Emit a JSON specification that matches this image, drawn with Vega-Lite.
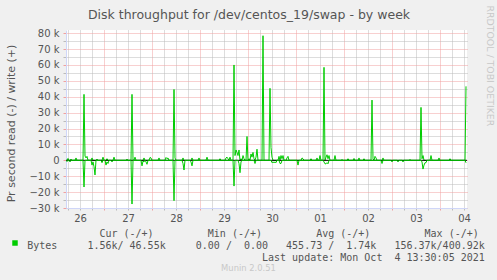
{
  "$schema": "https://vega.github.io/schema/vega-lite/v6.json",
  "width": 401,
  "height": 178,
  "autosize": {"type": "none"},
  "padding": {"left": 66, "top": 30, "right": 30, "bottom": 72},
  "background": "#f0f0f0",
  "title": {
    "text": "Munin 2.0.51",
    "orient": "bottom",
    "font": "DejaVu Sans",
    "fontSize": 8.4,
    "fontWeight": "normal",
    "color": "#c8c8c8",
    "anchor": "middle",
    "frame": "group",
    "baseline": "top",
    "offset": 2,
    "dx": -18
  },
  "config": {
    "view": {"stroke": null, "fill": "#ffffff"},
    "axis": {"labelFont": "DejaVu Sans", "titleFont": "DejaVu Sans", "titleFontWeight": "normal", "labelColor": "#555555", "titleColor": "#555555", "domainColor": "#cfd6f8", "titleLimit": 2000}
  },
  "datasets": {
    "write": [
      {"t": "2021-09-26T05:00:00Z", "v": 0}, {"t": "2021-09-26T05:30:00Z", "v": 0}, {"t": "2021-09-26T06:00:00Z", "v": 1200}, {"t": "2021-09-26T06:30:00Z", "v": 0},
      {"t": "2021-09-26T07:00:00Z", "v": 0}, {"t": "2021-09-26T07:30:00Z", "v": 800}, {"t": "2021-09-26T08:00:00Z", "v": 0}, {"t": "2021-09-26T09:30:00Z", "v": 0},
      {"t": "2021-09-26T10:00:00Z", "v": 1500}, {"t": "2021-09-26T10:30:00Z", "v": 0}, {"t": "2021-09-26T13:30:00Z", "v": 0}, {"t": "2021-09-26T14:00:00Z", "v": 41500},
      {"t": "2021-09-26T14:30:00Z", "v": 2700}, {"t": "2021-09-26T15:00:00Z", "v": 1500}, {"t": "2021-09-26T15:30:00Z", "v": 2500}, {"t": "2021-09-26T16:00:00Z", "v": 0},
      {"t": "2021-09-26T17:30:00Z", "v": 0}, {"t": "2021-09-26T18:00:00Z", "v": 1500}, {"t": "2021-09-26T18:30:00Z", "v": 0}, {"t": "2021-09-26T20:00:00Z", "v": 0},
      {"t": "2021-09-26T20:30:00Z", "v": 800}, {"t": "2021-09-26T21:00:00Z", "v": 0}, {"t": "2021-09-26T23:00:00Z", "v": 0}, {"t": "2021-09-26T23:30:00Z", "v": 2000},
      {"t": "2021-09-27T00:00:00Z", "v": 0}, {"t": "2021-09-27T01:00:00Z", "v": 0}, {"t": "2021-09-27T01:30:00Z", "v": 1000}, {"t": "2021-09-27T02:00:00Z", "v": 0},
      {"t": "2021-09-27T04:30:00Z", "v": 0}, {"t": "2021-09-27T05:00:00Z", "v": 2000}, {"t": "2021-09-27T05:30:00Z", "v": 0}, {"t": "2021-09-27T11:00:00Z", "v": 0},
      {"t": "2021-09-27T11:30:00Z", "v": 800}, {"t": "2021-09-27T12:00:00Z", "v": 0}, {"t": "2021-09-27T13:30:00Z", "v": 0}, {"t": "2021-09-27T14:00:00Z", "v": 41500},
      {"t": "2021-09-27T14:30:00Z", "v": 0}, {"t": "2021-09-27T15:00:00Z", "v": 0}, {"t": "2021-09-27T15:30:00Z", "v": 2000}, {"t": "2021-09-27T16:00:00Z", "v": 0},
      {"t": "2021-09-27T19:30:00Z", "v": 0}, {"t": "2021-09-27T20:00:00Z", "v": 1500}, {"t": "2021-09-27T20:30:00Z", "v": 0}, {"t": "2021-09-27T22:30:00Z", "v": 0},
      {"t": "2021-09-27T23:00:00Z", "v": 1800}, {"t": "2021-09-27T23:30:00Z", "v": 1500}, {"t": "2021-09-28T00:00:00Z", "v": 0}, {"t": "2021-09-28T03:00:00Z", "v": 0},
      {"t": "2021-09-28T03:30:00Z", "v": 1500}, {"t": "2021-09-28T04:00:00Z", "v": 0}, {"t": "2021-09-28T06:30:00Z", "v": 0}, {"t": "2021-09-28T07:00:00Z", "v": 1800},
      {"t": "2021-09-28T07:30:00Z", "v": 1000}, {"t": "2021-09-28T08:00:00Z", "v": 1500}, {"t": "2021-09-28T08:30:00Z", "v": 0}, {"t": "2021-09-28T10:30:00Z", "v": 0},
      {"t": "2021-09-28T11:00:00Z", "v": 44600}, {"t": "2021-09-28T11:30:00Z", "v": 1500}, {"t": "2021-09-28T12:00:00Z", "v": 0}, {"t": "2021-09-28T15:00:00Z", "v": 0},
      {"t": "2021-09-28T15:30:00Z", "v": 1500}, {"t": "2021-09-28T16:00:00Z", "v": 0}, {"t": "2021-09-28T19:30:00Z", "v": 0}, {"t": "2021-09-28T20:00:00Z", "v": 1500},
      {"t": "2021-09-28T20:30:00Z", "v": 0}, {"t": "2021-09-28T23:00:00Z", "v": 0}, {"t": "2021-09-28T23:30:00Z", "v": 1500}, {"t": "2021-09-29T00:00:00Z", "v": 0},
      {"t": "2021-09-29T03:00:00Z", "v": 0}, {"t": "2021-09-29T03:30:00Z", "v": 2000}, {"t": "2021-09-29T04:00:00Z", "v": 0}, {"t": "2021-09-29T09:30:00Z", "v": 0},
      {"t": "2021-09-29T10:00:00Z", "v": 1000}, {"t": "2021-09-29T10:30:00Z", "v": 0}, {"t": "2021-09-29T12:30:00Z", "v": 0}, {"t": "2021-09-29T13:00:00Z", "v": 1500},
      {"t": "2021-09-29T13:30:00Z", "v": 2000}, {"t": "2021-09-29T14:00:00Z", "v": 1000}, {"t": "2021-09-29T14:30:00Z", "v": 0}, {"t": "2021-09-29T15:00:00Z", "v": 2000},
      {"t": "2021-09-29T15:30:00Z", "v": 0}, {"t": "2021-09-29T16:30:00Z", "v": 0}, {"t": "2021-09-29T17:00:00Z", "v": 60000}, {"t": "2021-09-29T17:30:00Z", "v": 3000},
      {"t": "2021-09-29T18:00:00Z", "v": 6500}, {"t": "2021-09-29T18:30:00Z", "v": 5000}, {"t": "2021-09-29T19:00:00Z", "v": 3000}, {"t": "2021-09-29T19:30:00Z", "v": 6500},
      {"t": "2021-09-29T20:00:00Z", "v": 0}, {"t": "2021-09-29T20:30:00Z", "v": 1000}, {"t": "2021-09-29T21:00:00Z", "v": 0}, {"t": "2021-09-29T21:30:00Z", "v": 3000},
      {"t": "2021-09-29T22:00:00Z", "v": 1000}, {"t": "2021-09-29T22:30:00Z", "v": 0}, {"t": "2021-09-29T23:00:00Z", "v": 0}, {"t": "2021-09-29T23:30:00Z", "v": 15000},
      {"t": "2021-09-30T00:00:00Z", "v": 0}, {"t": "2021-09-30T00:30:00Z", "v": 1000}, {"t": "2021-09-30T01:00:00Z", "v": 0}, {"t": "2021-09-30T01:30:00Z", "v": 4000},
      {"t": "2021-09-30T02:00:00Z", "v": 2000}, {"t": "2021-09-30T02:30:00Z", "v": 5000}, {"t": "2021-09-30T03:00:00Z", "v": 1000}, {"t": "2021-09-30T03:30:00Z", "v": 0},
      {"t": "2021-09-30T04:00:00Z", "v": 2000}, {"t": "2021-09-30T04:30:00Z", "v": 7000}, {"t": "2021-09-30T05:00:00Z", "v": 0}, {"t": "2021-09-30T07:00:00Z", "v": 0},
      {"t": "2021-09-30T07:30:00Z", "v": 78400}, {"t": "2021-09-30T08:00:00Z", "v": 0}, {"t": "2021-09-30T10:30:00Z", "v": 0}, {"t": "2021-09-30T11:00:00Z", "v": 45300},
      {"t": "2021-09-30T11:30:00Z", "v": 8000}, {"t": "2021-09-30T12:00:00Z", "v": 2000}, {"t": "2021-09-30T12:30:00Z", "v": 0}, {"t": "2021-09-30T15:00:00Z", "v": 0},
      {"t": "2021-09-30T15:30:00Z", "v": 2500}, {"t": "2021-09-30T16:00:00Z", "v": 0}, {"t": "2021-09-30T16:30:00Z", "v": 3000}, {"t": "2021-09-30T17:00:00Z", "v": 1000},
      {"t": "2021-09-30T17:30:00Z", "v": 3000}, {"t": "2021-09-30T18:00:00Z", "v": 0}, {"t": "2021-09-30T19:00:00Z", "v": 0}, {"t": "2021-09-30T19:30:00Z", "v": 1500},
      {"t": "2021-09-30T20:00:00Z", "v": 2500}, {"t": "2021-09-30T20:30:00Z", "v": 0}, {"t": "2021-10-01T02:30:00Z", "v": 0}, {"t": "2021-10-01T03:00:00Z", "v": 1500},
      {"t": "2021-10-01T03:30:00Z", "v": 1000}, {"t": "2021-10-01T04:00:00Z", "v": 0}, {"t": "2021-10-01T07:00:00Z", "v": 0}, {"t": "2021-10-01T07:30:00Z", "v": 1000},
      {"t": "2021-10-01T08:00:00Z", "v": 0}, {"t": "2021-10-01T10:00:00Z", "v": 0}, {"t": "2021-10-01T10:30:00Z", "v": 1500}, {"t": "2021-10-01T11:00:00Z", "v": 0},
      {"t": "2021-10-01T11:30:00Z", "v": 0}, {"t": "2021-10-01T12:00:00Z", "v": 3000}, {"t": "2021-10-01T12:30:00Z", "v": 0}, {"t": "2021-10-01T13:30:00Z", "v": 0},
      {"t": "2021-10-01T14:00:00Z", "v": 58500}, {"t": "2021-10-01T14:30:00Z", "v": 0}, {"t": "2021-10-01T15:00:00Z", "v": 2000}, {"t": "2021-10-01T15:30:00Z", "v": 3500},
      {"t": "2021-10-01T16:00:00Z", "v": 1000}, {"t": "2021-10-01T16:30:00Z", "v": 3000}, {"t": "2021-10-01T17:00:00Z", "v": 0}, {"t": "2021-10-01T19:00:00Z", "v": 0},
      {"t": "2021-10-01T19:30:00Z", "v": 3000}, {"t": "2021-10-01T20:00:00Z", "v": 0}, {"t": "2021-10-01T22:30:00Z", "v": 0}, {"t": "2021-10-01T23:00:00Z", "v": 500},
      {"t": "2021-10-01T23:30:00Z", "v": 0}, {"t": "2021-10-02T01:30:00Z", "v": 0}, {"t": "2021-10-02T02:00:00Z", "v": 1000}, {"t": "2021-10-02T02:30:00Z", "v": 0},
      {"t": "2021-10-02T04:30:00Z", "v": 0}, {"t": "2021-10-02T05:00:00Z", "v": 1200}, {"t": "2021-10-02T05:30:00Z", "v": 0}, {"t": "2021-10-02T07:00:00Z", "v": 0},
      {"t": "2021-10-02T07:30:00Z", "v": 1500}, {"t": "2021-10-02T08:00:00Z", "v": 0}, {"t": "2021-10-02T09:30:00Z", "v": 0}, {"t": "2021-10-02T10:00:00Z", "v": 1000},
      {"t": "2021-10-02T10:30:00Z", "v": 0}, {"t": "2021-10-02T13:30:00Z", "v": 0}, {"t": "2021-10-02T14:00:00Z", "v": 37900}, {"t": "2021-10-02T14:30:00Z", "v": 1000},
      {"t": "2021-10-02T15:00:00Z", "v": 0}, {"t": "2021-10-02T15:30:00Z", "v": 2500}, {"t": "2021-10-02T16:00:00Z", "v": 1500}, {"t": "2021-10-02T16:30:00Z", "v": 0},
      {"t": "2021-10-02T19:00:00Z", "v": 0}, {"t": "2021-10-02T19:30:00Z", "v": 1500}, {"t": "2021-10-02T20:00:00Z", "v": 0}, {"t": "2021-10-03T08:30:00Z", "v": 0},
      {"t": "2021-10-03T09:00:00Z", "v": 500}, {"t": "2021-10-03T09:30:00Z", "v": 0}, {"t": "2021-10-03T14:00:00Z", "v": 0}, {"t": "2021-10-03T14:30:00Z", "v": 33300},
      {"t": "2021-10-03T15:00:00Z", "v": 1000}, {"t": "2021-10-03T15:30:00Z", "v": 3000}, {"t": "2021-10-03T16:00:00Z", "v": 0}, {"t": "2021-10-03T19:00:00Z", "v": 0},
      {"t": "2021-10-03T19:30:00Z", "v": 3000}, {"t": "2021-10-03T20:00:00Z", "v": 0}, {"t": "2021-10-03T23:00:00Z", "v": 0}, {"t": "2021-10-03T23:30:00Z", "v": 1500},
      {"t": "2021-10-04T00:00:00Z", "v": 0}, {"t": "2021-10-04T04:30:00Z", "v": 0}, {"t": "2021-10-04T05:00:00Z", "v": 1000}, {"t": "2021-10-04T05:30:00Z", "v": 0},
      {"t": "2021-10-04T12:30:00Z", "v": 0}, {"t": "2021-10-04T13:00:00Z", "v": 46550}
    ],
    "read": [
      {"t": "2021-09-26T05:00:00Z", "v": 0}, {"t": "2021-09-26T05:30:00Z", "v": -800}, {"t": "2021-09-26T06:00:00Z", "v": 0}, {"t": "2021-09-26T06:30:00Z", "v": 0},
      {"t": "2021-09-26T07:00:00Z", "v": -1000}, {"t": "2021-09-26T07:30:00Z", "v": 0}, {"t": "2021-09-26T13:30:00Z", "v": 0}, {"t": "2021-09-26T14:00:00Z", "v": -16800},
      {"t": "2021-09-26T14:30:00Z", "v": 0}, {"t": "2021-09-26T17:30:00Z", "v": 0}, {"t": "2021-09-26T18:00:00Z", "v": -3000}, {"t": "2021-09-26T18:30:00Z", "v": -1000},
      {"t": "2021-09-26T19:00:00Z", "v": -4000}, {"t": "2021-09-26T19:30:00Z", "v": -9200}, {"t": "2021-09-26T20:00:00Z", "v": 0}, {"t": "2021-09-26T22:30:00Z", "v": 0},
      {"t": "2021-09-26T23:00:00Z", "v": -1500}, {"t": "2021-09-26T23:30:00Z", "v": 0}, {"t": "2021-09-27T00:30:00Z", "v": 0}, {"t": "2021-09-27T01:00:00Z", "v": -3000},
      {"t": "2021-09-27T01:30:00Z", "v": -1000}, {"t": "2021-09-27T02:00:00Z", "v": -2000}, {"t": "2021-09-27T02:30:00Z", "v": 0}, {"t": "2021-09-27T03:30:00Z", "v": 0},
      {"t": "2021-09-27T04:00:00Z", "v": -1000}, {"t": "2021-09-27T04:30:00Z", "v": 0}, {"t": "2021-09-27T13:30:00Z", "v": 0}, {"t": "2021-09-27T14:00:00Z", "v": -27500},
      {"t": "2021-09-27T14:30:00Z", "v": 0}, {"t": "2021-09-27T18:30:00Z", "v": 0}, {"t": "2021-09-27T19:00:00Z", "v": -3500}, {"t": "2021-09-27T19:30:00Z", "v": -500},
      {"t": "2021-09-27T20:00:00Z", "v": -1000}, {"t": "2021-09-27T20:30:00Z", "v": 0}, {"t": "2021-09-27T21:00:00Z", "v": -1000}, {"t": "2021-09-27T21:30:00Z", "v": -2500},
      {"t": "2021-09-27T22:00:00Z", "v": 0}, {"t": "2021-09-28T10:30:00Z", "v": 0}, {"t": "2021-09-28T11:00:00Z", "v": -25400}, {"t": "2021-09-28T11:30:00Z", "v": 0},
      {"t": "2021-09-28T15:00:00Z", "v": 0}, {"t": "2021-09-28T15:30:00Z", "v": -2000}, {"t": "2021-09-28T16:00:00Z", "v": -6100}, {"t": "2021-09-28T16:30:00Z", "v": 0},
      {"t": "2021-09-28T19:00:00Z", "v": 0}, {"t": "2021-09-28T19:30:00Z", "v": -1000}, {"t": "2021-09-28T20:00:00Z", "v": -3500}, {"t": "2021-09-28T20:30:00Z", "v": 0},
      {"t": "2021-09-29T16:30:00Z", "v": 0}, {"t": "2021-09-29T17:00:00Z", "v": -16200}, {"t": "2021-09-29T17:30:00Z", "v": 0}, {"t": "2021-09-29T19:00:00Z", "v": 0},
      {"t": "2021-09-29T19:30:00Z", "v": -2000}, {"t": "2021-09-29T20:00:00Z", "v": -7800}, {"t": "2021-09-29T20:30:00Z", "v": -1000}, {"t": "2021-09-29T21:00:00Z", "v": 0},
      {"t": "2021-09-30T03:00:00Z", "v": 0}, {"t": "2021-09-30T03:30:00Z", "v": -2000}, {"t": "2021-09-30T04:00:00Z", "v": 0}, {"t": "2021-09-30T11:30:00Z", "v": 0},
      {"t": "2021-09-30T12:00:00Z", "v": -1500}, {"t": "2021-09-30T12:30:00Z", "v": -1000}, {"t": "2021-09-30T13:00:00Z", "v": -1500}, {"t": "2021-09-30T13:30:00Z", "v": -1000},
      {"t": "2021-09-30T14:00:00Z", "v": -1500}, {"t": "2021-09-30T14:30:00Z", "v": 0}, {"t": "2021-09-30T15:30:00Z", "v": 0}, {"t": "2021-09-30T16:00:00Z", "v": -2000},
      {"t": "2021-09-30T16:30:00Z", "v": -2000}, {"t": "2021-09-30T17:00:00Z", "v": 0}, {"t": "2021-10-01T00:30:00Z", "v": 0}, {"t": "2021-10-01T01:00:00Z", "v": -3000},
      {"t": "2021-10-01T01:30:00Z", "v": 0}, {"t": "2021-10-01T13:30:00Z", "v": 0}, {"t": "2021-10-01T14:00:00Z", "v": -1000}, {"t": "2021-10-01T14:30:00Z", "v": -2200},
      {"t": "2021-10-01T15:00:00Z", "v": -2200}, {"t": "2021-10-01T15:30:00Z", "v": -1500}, {"t": "2021-10-01T16:00:00Z", "v": -2200}, {"t": "2021-10-01T16:30:00Z", "v": 0},
      {"t": "2021-10-02T18:30:00Z", "v": 0}, {"t": "2021-10-02T19:00:00Z", "v": -2000}, {"t": "2021-10-02T19:30:00Z", "v": 0}, {"t": "2021-10-02T23:30:00Z", "v": 0},
      {"t": "2021-10-03T00:00:00Z", "v": -1000}, {"t": "2021-10-03T00:30:00Z", "v": 0}, {"t": "2021-10-03T02:30:00Z", "v": 0}, {"t": "2021-10-03T03:00:00Z", "v": -1000},
      {"t": "2021-10-03T03:30:00Z", "v": 0}, {"t": "2021-10-03T05:00:00Z", "v": 0}, {"t": "2021-10-03T05:30:00Z", "v": -1000}, {"t": "2021-10-03T06:00:00Z", "v": 0},
      {"t": "2021-10-03T14:30:00Z", "v": 0}, {"t": "2021-10-03T15:00:00Z", "v": -1000}, {"t": "2021-10-03T15:30:00Z", "v": -5500}, {"t": "2021-10-03T16:00:00Z", "v": -3000},
      {"t": "2021-10-03T16:30:00Z", "v": -1500}, {"t": "2021-10-03T17:00:00Z", "v": -1500}, {"t": "2021-10-03T17:30:00Z", "v": 0}, {"t": "2021-10-04T12:30:00Z", "v": 0},
      {"t": "2021-10-04T13:00:00Z", "v": -1560}
    ],
    "zero": [{"v": 0}]
  },
  "layer": [
    {
      "layer": [
        {
          "data": {"name": "write"},
          "mark": {"type": "line", "strokeWidth": 1, "clip": true},
          "encoding": {
            "x": {
              "field": "t", "type": "temporal",
              "scale": {"type": "utc", "domain": [1632632400000, 1633354200000]},
              "axis": {
                "values": [1632636000000, 1632657600000, 1632679200000, 1632700800000, 1632722400000, 1632744000000, 1632765600000, 1632787200000, 1632808800000, 1632830400000, 1632852000000, 1632873600000, 1632895200000, 1632916800000, 1632938400000, 1632960000000, 1632981600000, 1633003200000, 1633024800000, 1633046400000, 1633068000000, 1633089600000, 1633111200000, 1633132800000, 1633154400000, 1633176000000, 1633197600000, 1633219200000, 1633240800000, 1633262400000, 1633284000000, 1633305600000, 1633327200000, 1633348800000],
                "labelExpr": "utchours(datum.value) == 12 ? utcFormat(datum.value, '%d') : ''",
                "labelOverlap": false, "labelFlush": false,
                "labelFontSize": 10, "labelPadding": 3,
                "ticks": true, "tickSize": 2,
                "tickColor": {"condition": {"test": "utchours(datum.value) == 0", "value": "#f0a0a0"}, "value": "#bbbbbb"},
                "grid": true, "gridDash": [1, 1], "gridWidth": 1,
                "gridColor": {"condition": {"test": "utchours(datum.value) == 0", "value": "#f0a0a0"}, "value": "#bbbbbb"},
                "title": [
                  "\u200b\u00a0\u00a0\u00a0\u00a0\u00a0\u00a0\u00a0\u00a0\u00a0\u00a0\u00a0\u00a0Cur (-/+)\u00a0\u00a0\u00a0\u00a0\u00a0\u00a0\u00a0\u00a0\u00a0Min (-/+)\u00a0\u00a0\u00a0\u00a0\u00a0\u00a0\u00a0\u00a0\u00a0Avg (-/+)\u00a0\u00a0\u00a0\u00a0\u00a0\u00a0\u00a0\u00a0\u00a0Max (-/+)",
                  "Bytes\u00a0\u00a0\u00a0\u00a0\u00a01.56k/\u00a046.55k\u00a0\u00a0\u00a0\u00a0\u00a00.00\u00a0/\u00a0\u00a00.00\u00a0\u00a0\u00a0455.73\u00a0/\u00a0\u00a01.74k\u00a0\u00a0\u00a0156.37k/400.92k",
                  "\u200b\u00a0\u00a0\u00a0\u00a0\u00a0\u00a0\u00a0\u00a0\u00a0\u00a0\u00a0\u00a0\u00a0\u00a0\u00a0\u00a0\u00a0\u00a0\u00a0\u00a0\u00a0\u00a0\u00a0\u00a0\u00a0\u00a0\u00a0\u00a0\u00a0\u00a0\u00a0\u00a0\u00a0\u00a0\u00a0\u00a0\u00a0\u00a0\u00a0Last update: Mon Oct\u00a0\u00a04 13:30:05 2021"
                ],
                "titleFont": "DejaVu Sans Mono", "titleFontSize": 10, "titleLineHeight": 12,
                "titleX": -39.3, "titleY": 28, "titleAlign": "left", "titleBaseline": "alphabetic", "titleAngle": 0
              }
            },
            "y": {
              "field": "v", "type": "quantitative",
              "scale": {"domain": [-30000, 82000], "nice": false, "zero": false},
              "axis": {
                "values": [-30000, -25000, -20000, -15000, -10000, -5000, 0, 5000, 10000, 15000, 20000, 25000, 30000, 35000, 40000, 45000, 50000, 55000, 60000, 65000, 70000, 75000, 80000],
                "labelExpr": "datum.value % 10000 == 0 ? (datum.value == 0 ? '0' : format(datum.value / 1000, 'd') + ' k') : ''",
                "labelOverlap": false,
                "labelFontSize": 10, "labelPadding": 4, "tickSize": 3,
                "tickColor": {"condition": {"test": "datum.value % 10000 == 0", "value": "#f0a0a0"}, "value": "#bbbbbb"},
                "grid": true, "gridDash": [1, 1], "gridWidth": 1,
                "gridColor": {"condition": {"test": "datum.value % 10000 == 0", "value": "#f0a0a0"}, "value": "#bbbbbb"},
                "title": "Pr second read (-) / write (+)",
                "titleFontSize": 11, "titleAngle": 270, "titleX": -55, "titleY": 93, "titleAlign": "center", "titleBaseline": "middle"
              }
            },
            "color": {
              "datum": "Bytes",
              "scale": {"range": ["#00cc00"]},
              "legend": {
                "orient": "none", "legendX": -54, "legendY": 210, "title": null, "padding": 0,
                "symbolType": "square", "symbolSize": 30, "symbolFillColor": "#00cc00", "symbolStrokeWidth": 0,
                "labelExpr": "''", "labelFontSize": 1, "labelOffset": 0
              }
            }
          }
        },
        {
          "data": {"name": "zero"},
          "mark": {"type": "rule", "color": "#000000", "strokeWidth": 1},
          "encoding": {
            "y": {
              "field": "v", "type": "quantitative",
              "axis": {
                "values": [-30000, -25000, -20000, -15000, -10000, -5000, 0, 5000, 10000, 15000, 20000, 25000, 30000, 35000, 40000, 45000, 50000, 55000, 60000, 65000, 70000, 75000, 80000],
                "labelExpr": "datum.value % 10000 == 0 ? (datum.value == 0 ? '0' : format(datum.value / 1000, 'd') + ' k') : ''",
                "labelOverlap": false,
                "labelFontSize": 10, "labelPadding": 4, "tickSize": 3,
                "tickColor": {"condition": {"test": "datum.value % 10000 == 0", "value": "#f0a0a0"}, "value": "#bbbbbb"},
                "grid": true, "gridDash": [1, 1], "gridWidth": 1,
                "gridColor": {"condition": {"test": "datum.value % 10000 == 0", "value": "#f0a0a0"}, "value": "#bbbbbb"},
                "title": "Pr second read (-) / write (+)",
                "titleFontSize": 11, "titleAngle": 270, "titleX": -55, "titleY": 93, "titleAlign": "center", "titleBaseline": "middle"
              }
            }
          }
        }
      ]
    },
    {
      "data": {"name": "read"},
      "mark": {"type": "line", "strokeWidth": 1, "clip": true, "color": "#00cc00"},
      "encoding": {
        "x": {
          "field": "t", "type": "temporal",
          "axis": {
            "orient": "top", "labels": false, "ticks": false, "domain": false, "grid": false,
            "title": "Disk throughput for /dev/centos_19/swap - by week", "titleFont": "DejaVu Sans", "titleFontSize": 12.5, "titleColor": "#555555",
            "titleX": 182.5, "titleY": -12, "titleAlign": "center", "titleBaseline": "alphabetic", "titleAngle": 0
          }
        },
        "y": {
          "field": "v", "type": "quantitative",
          "axis": {
            "orient": "right", "labels": false, "ticks": false, "domain": false, "grid": false,
            "title": "RRDTOOL / TOBI OETIKER", "titleFont": "DejaVu Sans", "titleFontSize": 9.4, "titleColor": "#c8c8c8",
            "titleAngle": 90, "titleX": 22, "titleY": -25, "titleAlign": "left", "titleBaseline": "middle"
          }
        }
      }
    }
  ],
  "resolve": {"axis": {"x": "independent", "y": "independent"}}
}
